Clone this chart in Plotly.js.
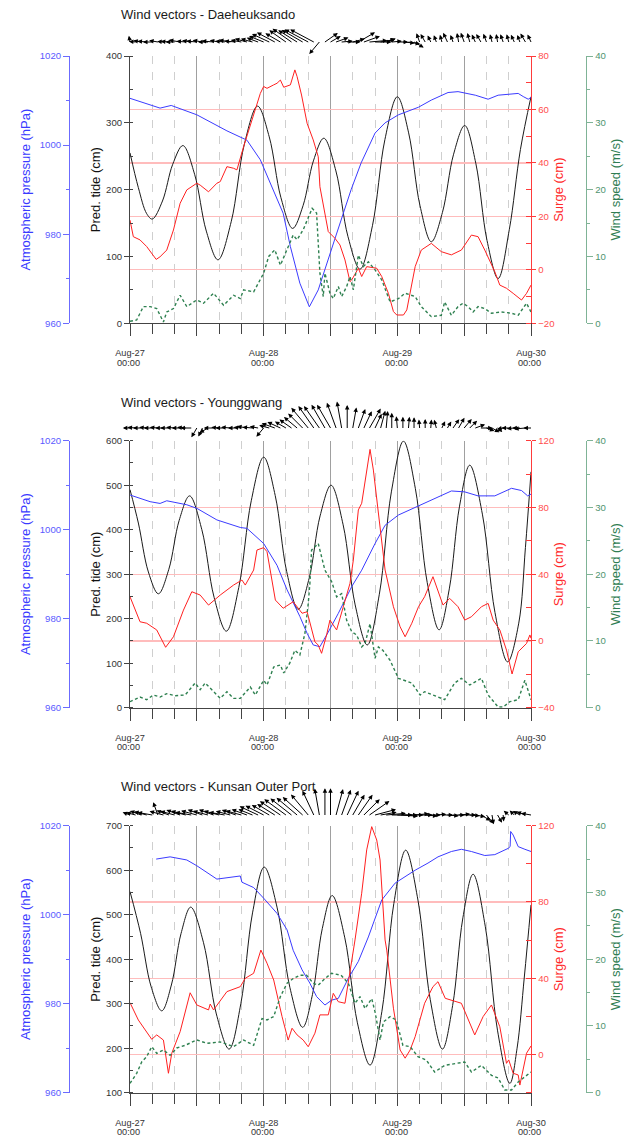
<!DOCTYPE html>
<html><head><meta charset="utf-8">
<script src="https://cdn.plot.ly/plotly-3.0.1.min.js"></script>
<style>html,body{margin:0;padding:0;background:#fff;}#chart{width:637px;height:1138px;}</style>
</head><body><div id="chart"></div>
<script>
// ---------------- DATA (hours after Aug-27 00:00) ----------------
const stationNames = ["Daeheuksando", "Younggwang", "Kunsan Outer Port"];
const startMs = Date.UTC(2012, 7, 27, 0, 0, 0);
const dayHours = [0, 24, 48, 72];
const timeLabel = "00:00";

// Panel 1 - Daeheuksando
const tide1T = [0,1.5,3,4,5.83,7.67,9.5,11.6,13.7,15.8,18.17,20.53,22.9,25,27.1,29.2,31.07,32.93,34.8,36.97,39.13,41.3,43.53,45.77,48,50.03,52.07,54.1,56.1,58.1,60.1,62.1,64.1,66.1,68.1,70.1,72];
const tide1V = [255,203,164,156,183,238,266,223,138,95,152,268,325,279,188,142,176,243,277,228,130,81,146,275,339,285,176,122,166,253,296,239,124,67,140,260,339];
const press1T = [0,5.4,7.4,12,17.4,21,23.4,25.7,27.5,28.8,30.5,32.2,33.8,36.8,39.7,41.5,44,45.8,48.2,51.8,54.1,57.1,58.9,62,64.3,66.1,69.7,70.6,71.5,72];
const press1V = [1010.5,1008.3,1008.9,1006.8,1003.2,1001.1,996.7,989.9,984.7,977.2,969,963.7,967.5,979,990,996,1002.7,1005,1006.8,1008.5,1010.1,1011.8,1012,1011.2,1010.3,1011.2,1011.6,1010.9,1010.3,1010.7];
const surge1T = [0,0.6,1.8,3,4.7,5.4,6.6,7.8,9,10.2,12,12.6,14.1,15.6,16.2,17.4,18.6,19.2,20.4,21.3,22.5,23.4,24,24.6,25.8,26.4,27,27.6,28.8,29.6,30,30.8,31.8,32.9,33.8,34.1,35.6,36.8,37.7,38.6,39.5,39.8,41,41.6,42.5,44.3,45.2,46.4,47.3,47.9,49.1,49.7,51.2,52.3,54.1,55.9,57.7,59.5,61.3,62.5,63.7,65.5,66.4,67.6,68.8,70.3,71.2,72];
const surge1V = [18.6,12.4,11.2,8.7,3.9,4.9,7.4,14.9,24.9,29.9,32.4,31.7,29.2,32.4,33,38.6,38,37.4,46.1,52.3,59.8,66,68.6,67.9,69.2,69.8,71,68.3,69.2,74.8,72.3,65.4,54.8,48.6,42.3,31.1,14.3,11.8,9.3,3.7,-4.4,-3.8,0.6,-2.5,1.2,0.6,-2.5,-8.8,-15.6,-16.9,-16.9,-15,1.2,7.4,9.9,6.8,5.6,7.4,13,12.4,7.4,-0.7,-5.7,-6.9,-8.8,-11.3,-8.8,-5.7];
const wind1T = [0,1.2,1.8,2.4,3.6,4.8,6,6.6,7.8,9,10.2,12,13.2,15,16.8,18.6,19.8,20.4,22.2,24,24.9,26,27,28.2,29.3,30,31.1,32.7,33.5,34.1,34.7,35,35.9,36.5,37.4,38,38.9,39.5,40.1,41,41.9,42.8,44,45.2,46.7,48.2,49.4,51.2,52.3,54.1,55.9,56.5,57.7,58.9,59.8,60.7,61.6,62.5,63.7,64.9,66.7,68.5,69.7,71.2,72];
const wind1V = [0.3,0.5,1.5,2.5,2.5,2.2,0.2,1.7,2.2,4.2,2.5,3.5,3,4.5,2.7,4.2,3.7,5,4.7,7.5,10,11,8.7,11,13.2,12.5,14,17.2,16.5,7.5,4,7.5,4.5,3.7,5.5,4,5.5,7,5,10.2,8.5,9.2,8,6.5,3.2,3.7,4.5,4,2.5,1,1.2,3.2,1.2,2.5,3,2.5,1.7,2.5,2.2,1.5,1.7,1.5,1.2,3,1.7];
// hourly wind direction (degrees, direction wind blows from), hours 0..72
const dir1 = [170,95,100,95,90,100,95,95,90,100,95,100,95,100,90,95,100,95,100,95,100,105,105,110,112,115,118,120,125,125,122,120,118,118,40,235,240,250,265,270,255,240,250,265,270,260,250,265,270,275,280,300,160,150,155,160,165,155,160,170,160,165,155,150,160,165,170,160,165,155,160,150,155];

// Panel 2 - Younggwang
const tide2T = [0,1.5,3.3,5.1,6.97,8.83,10.7,12.9,15.1,17.3,19.53,21.77,24,26.07,28.13,30.2,32.17,34.13,36.1,38.27,40.43,42.6,44.77,46.93,49.1,51.23,53.37,55.5,57.33,59.17,61,63.27,65.53,67.8,69.8,71,72];
const tide2V = [490,415,305,256,311,421,476,400,248,172,270,465,563,477,306,221,291,431,500,411,231,141,255,485,599,493,281,175,267,453,545,435,214,103,190,360,530];
const press2T = [0,3.6,5.4,6.6,10.2,12,15.6,19.8,21,24,26.4,28.2,30.5,31.8,32.9,34.1,35.6,37.4,39.8,41.6,44,45.8,48.2,51.8,54.1,57.7,60.1,62.5,65.5,68.5,70.3,71.4,72];
const press2V = [1007.8,1006.3,1005.9,1006.5,1005.6,1004.8,1002.2,1000.5,1000.3,996.9,992,986.5,980.5,976.7,974.1,973.7,977,981.2,987.2,990.9,996.9,1001,1003.3,1005.3,1006.7,1008.7,1008.5,1007.6,1007.6,1009.3,1008.8,1007.6,1008];
const surge2T = [0,1.8,3,4.8,6.4,7.8,9.6,11.1,12.6,14.1,16.2,18.6,20.1,20.7,22.2,22.8,24,24.6,26.1,27.5,29.3,30.9,31.8,32.7,33.2,33.8,34.4,35.3,35.9,37.1,38,39.5,40.1,41,41.6,42.5,43.1,43.7,44.6,45.8,47.3,48.5,49.4,50.6,51.8,52.9,54.4,56.2,57.4,58.9,60.1,61.3,63.1,64.3,65.2,66.4,67.6,68.6,69.7,71.2,71.8,72];
const surge2V = [26.5,11.5,10.6,6.6,-3.8,2.5,18.5,29.5,27.5,21.5,27.5,33.5,36.5,33.5,42.5,54.5,55.9,53.5,24.5,19.6,23.5,16.6,17.5,5.5,-0.5,-2.5,-7.4,3.6,12.5,6.6,16.6,34.5,48.5,78.5,82.5,102.4,114.8,102.4,76.5,42.5,20.5,8.5,2.5,10.6,20.5,26.5,38.5,21.5,25.5,20.5,12.5,14.5,20.5,22.5,12.5,6.6,-5.5,-19.8,-6.5,-1.5,3.6,1.6];
const wind2T = [0,1.8,3,4.2,5.4,6.6,8.1,9.9,11.7,12.6,13.5,14.4,16.2,17.4,18.6,19.8,21.6,22.5,24,24.6,25.8,27,27.6,28.7,29.6,30.5,31.4,32,32.3,32.6,33.8,35,36.2,37.1,38,38.9,39.8,40.7,41.6,42.2,43.1,44,44.6,45.4,46.7,48.2,49.4,50.6,52.1,52.9,54.4,56.5,58.3,59.5,61,63.1,64.3,66.1,67,68.2,69.7,70.9,72];
const wind2V = [0.9,1.6,1.2,1.9,1.6,2.1,1.8,1.9,3.7,2.7,3.7,2.9,1.4,2.4,1.4,1.4,3.1,1.9,4.1,3.4,6.1,6.4,5.2,6.7,8.6,7.9,11.1,15.6,18.6,23.6,24.6,20.6,18.9,16.6,17.1,13.1,11.4,10.9,9.1,9.6,12.6,7.4,9.1,8.6,7.1,4.4,4.1,3.7,1.9,2.4,1.9,1.2,3.7,4.4,3.4,4.4,1.9,0.1,0.1,0.9,1.2,4.1,1.2];
const dir2 = [90,95,90,95,90,95,90,90,95,90,95,90,30,25,60,90,95,90,95,90,95,100,95,100,40,105,110,115,120,125,130,135,140,145,145,150,150,160,170,180,190,200,205,210,205,195,185,180,175,180,185,180,175,180,185,165,205,210,215,210,220,225,250,270,290,300,310,80,90,85,90,85,90];

// Panel 3 - Kunsan Outer Port
const tide3T = [0,1.9,3.8,5.7,7.43,9.17,10.9,13.2,15.5,17.8,19.9,22,24.1,26.4,28.7,31,32.77,34.53,36.3,38.57,40.83,43.1,45.23,47.37,49.5,51.7,53.9,56.1,57.93,59.77,61.6,63.8,66,68.2,69.5,70.8,72];
const tide3V = [552,458,338,284,342,458,517,437,277,198,300,504,607,517,337,247,321,469,543,448,257,162,283,525,645,533,310,198,296,493,591,473,239,121,200,360,522];
const press3T = [4.7,7.2,10.2,12,15.6,19.8,20.1,22.2,24,26.4,28.2,29.3,30.9,32.3,33.5,35,36.2,37.4,39.2,41,42.8,45.2,47.6,51.2,53.5,55.3,57.7,59.5,61.3,63.7,65.5,67.9,68.25,68.35,68.8,69.7,70.9,72];
const press3V = [1012.5,1013,1012.3,1011,1008,1008.7,1007.3,1006.1,1003.7,1000.3,996.6,992,987.6,984.6,981.6,979.7,980.8,981.2,985.7,989.5,995,1003.3,1007.1,1010,1011.6,1013,1014.2,1014.7,1014.2,1013.3,1013.5,1014.9,1015.3,1018.7,1017.9,1015.3,1014.7,1014.2];
const surge3T = [0,1.5,3.9,4.8,6,6.9,7.5,9,10.8,12,14.1,14.4,15,17.4,19.8,20.7,22.2,23.5,24.6,25.8,27.3,28.4,29.1,30,31.1,32,33.2,34.1,35.6,36.5,37.4,38.6,40.4,41.6,42.5,43.4,44.3,44.9,45.8,46.1,47.3,48.5,49.4,50.3,51.2,52.9,54.4,55.3,56.6,57.7,59.5,61.9,63.4,64.9,66.4,67.6,68,68.8,69.7,70,71.2,72];
const surge3V = [27.2,18.1,8,10.3,7.6,-9.8,0.7,12,32.4,26,23.4,26.5,23.4,33,35.6,40,42.6,54.8,47.9,39.1,19.9,7.6,13.8,10.3,7.6,4.1,11.2,20.8,20.8,32.1,27.7,26.9,60.1,84.6,107.3,119.5,112.5,102,60.1,54.8,24.3,2.4,-1.9,2.4,9.4,26.9,35.6,38.2,29.5,28.6,26.9,10.3,19.9,26,14.6,-4.6,-2.8,-9.8,-10.7,-16,0.7,4.5];
const wind3T = [0,1.2,2.1,3,3.9,4.8,6,7.2,8.4,9.9,12,13.8,16.2,18.6,20.4,22.2,23.7,24.6,25.8,27,28.2,29.3,30.5,31.7,32.9,33.8,35,36.2,37.9,39.2,40.4,41.3,42.2,43.4,44,44.9,45.5,46.7,47.8,49,50.3,51.7,53.2,54.7,56.5,58.3,60.1,61.3,63.1,64.9,66.1,67.3,68.5,69.7,71.2,72];
const wind3V = [1.4,2.9,4.6,5.4,6.9,5.9,6.4,5.6,6.7,7.1,7.9,7.4,7.6,6.9,7.9,7.1,11.1,10.9,11.4,14.4,16.4,17.1,17.6,17.6,16.4,16.1,17.1,17.9,17.6,16.4,13.4,14.4,12.6,14.1,12.1,7.9,10.6,11.4,10.9,7.1,6.9,5.4,4.9,3.1,4.1,4.4,4.6,3.1,4.1,2.6,2.2,0.4,0.4,1.6,2.6,3.1];
const dir3 = [110,105,110,105,100,160,105,110,105,110,105,100,105,110,105,110,105,100,105,110,105,110,112,115,117,120,122,124,126,128,130,132,140,155,170,180,180,195,200,205,210,215,225,235,255,260,265,270,270,275,270,265,270,275,270,265,270,275,270,265,270,275,280,300,320,350,330,355,130,135,120,110,100];

// axis settings per panel
const tideRanges = [[0,400],[0,600],[100,700]];
const surgeRanges = [[-20,80],[-40,120],[-20,120]];
const surgeDticks = [20,40,40];
const pressRange = [960,1020];
const windRange = [0,40];

// ---------------- LAYOUT CONSTANTS ----------------
const W = 637, H = 1138;
const plotL = 130, plotR = 531;
const rowsPx = [[56,323.3],[440.7,707.7],[825.7,1092.7]];
const arrowBasePx = [42, 428, 815];
const titleYPx = [15, 402, 786];
const pressAxisX = 69, windAxisX = 586;
const FONT = 'Liberation Sans, Arial, Helvetica, sans-serif';
const XFONT = 9.2;

function toDate(h){ return new Date(startMs + h*3600000).toISOString().slice(0,19).replace('T',' '); }
function nearest(ts, vs, t){ let bi=0, bd=1e9; for(let i=0;i<ts.length;i++){const d=Math.abs(ts[i]-t); if(d<bd){bd=d;bi=i;}} return vs[bi]; }

const panels = [
  {tT:tide1T,tV:tide1V,pT:press1T,pV:press1V,sT:surge1T,sV:surge1V,wT:wind1T,wV:wind1V,dir:dir1},
  {tT:tide2T,tV:tide2V,pT:press2T,pV:press2V,sT:surge2T,sV:surge2V,wT:wind2T,wV:wind2V,dir:dir2},
  {tT:tide3T,tV:tide3V,pT:press3T,pV:press3V,sT:surge3T,sV:surge3V,wT:wind3T,wV:wind3V,dir:dir3}
];

const traces = [];
const layout = {
  width: W, height: H, margin:{l:0,r:0,t:0,b:0},
  paper_bgcolor:'#fff', plot_bgcolor:'rgba(0,0,0,0)',
  showlegend:false, font:{family:FONT, size:10, color:'#333'},
  annotations: []
};
const domX = [plotL/W, plotR/W];
const xStart = toDate(0), xEnd = toDate(72);

panels.forEach((p, i) => {
  const xid = i===0 ? 'x' : 'x'+(i+1);
  const xkey = i===0 ? 'xaxis' : 'xaxis'+(i+1);
  const yn = [4*i+1, 4*i+2, 4*i+3, 4*i+4];
  const yid = yn.map(n => n===1 ? 'y' : 'y'+n);
  const ykey = yn.map(n => n===1 ? 'yaxis' : 'yaxis'+n);
  const dom = [1 - rowsPx[i][1]/H, 1 - rowsPx[i][0]/H];

  layout[xkey] = {
    domain: domX, anchor: yid[0], type:'date', range:[xStart, xEnd],
    tickmode:'linear', tick0: xStart, dtick: 12*3600000, ticklabelstep: 2,
    tickformat:'%b-%d', tickfont:{size:XFONT, color:'#333'},
    ticks:'outside', ticklen:12, tickwidth:1, tickcolor:'#444', ticklabelstandoff: 9,
    showline:true, linecolor:'#444', linewidth:1,
    showgrid:true, gridcolor:'#a0a0a0', gridwidth:1.1, zeroline:false,
    minor:{tick0: xStart, dtick: 4*3600000, ticks:'outside', ticklen:10, tickwidth:1, tickcolor:'#444',
           showgrid:true, gridcolor:'#cfcfcf', gridwidth:1, griddash:'8px,8px'},
    fixedrange:true
  };
  // tide
  layout[ykey[0]] = {
    domain: dom, anchor: xid, range: tideRanges[i], tick0:0, dtick:100,
    ticks:'outside', ticklen:5, tickcolor:'#444', showline:true, linecolor:'#444', linewidth:1,
    showgrid:false, zeroline:false, tickfont:{size:9.6, color:'#333'},
    minor:{dtick:50, ticks:'inside', ticklen:3, tickcolor:'#444', showgrid:false},
    title:{text:'Pred. tide (cm)', font:{size:13, color:'#111'}, standoff:2}, automargin:false
  };
  // pressure
  layout[ykey[1]] = {
    overlaying: yid[0], anchor:'free', position: pressAxisX/W, side:'left',
    range: pressRange, tick0:960, dtick:20,
    ticks:'outside', ticklen:6, tickcolor:'#6b6bff', showline:true, linecolor:'#6b6bff', linewidth:1.3,
    showgrid:false, zeroline:false, tickfont:{size:9.6, color:'#5a5aff'},
    minor:{dtick:10, ticks:'outside', ticklen:3, tickcolor:'#6b6bff', showgrid:false},
    title:{text:'Atmospheric pressure (hPa)', font:{size:13, color:'#3a3aff'}, standoff:5}, automargin:false
  };
  // surge
  layout[ykey[2]] = {
    overlaying: yid[0], anchor: xid, side:'right',
    range: surgeRanges[i], tick0:0, dtick: surgeDticks[i],
    ticks:'outside', ticklen:4, tickcolor:'#ff3b3b', showline:true, linecolor:'#ff3b3b', linewidth:1.3,
    showgrid:true, gridcolor:'#ffbcbc', gridwidth:1.3, zeroline:false, tickfont:{size:9.6, color:'#ff4d4d'},
    minor:{dtick: surgeDticks[i]/2, ticks:'inside', ticklen:5, tickcolor:'#ff3b3b', showgrid:false},
    title:{text:'Surge (cm)', font:{size:13, color:'#ff2a2a'}, standoff:0}, automargin:false
  };
  // wind
  layout[ykey[3]] = {
    overlaying: yid[0], anchor:'free', position: windAxisX/W, side:'right',
    range: windRange, tick0:0, dtick:10,
    ticks:'outside', ticklen:6, tickcolor:'#7fb396', showline:true, linecolor:'#7fb396', linewidth:1.3,
    showgrid:false, zeroline:false, tickfont:{size:9.6, color:'#4f9470'},
    minor:{dtick:5, ticks:'outside', ticklen:3, tickcolor:'#7fb396', showgrid:false},
    title:{text:'Wind speed (m/s)', font:{size:13, color:'#2f7d52'}, standoff:6}, automargin:false
  };

  traces.push({type:'scatter', mode:'lines', x:p.tT.map(toDate), y:p.tV, xaxis:xid, yaxis:yid[0],
    line:{color:'#1a1a1a', width:1, shape:'spline', smoothing:1}, hoverinfo:'skip'});
  traces.push({type:'scatter', mode:'lines', x:p.pT.map(toDate), y:p.pV, xaxis:xid, yaxis:yid[1],
    line:{color:'#3b3bff', width:1}, hoverinfo:'skip'});
  traces.push({type:'scatter', mode:'lines', x:p.sT.map(toDate), y:p.sV, xaxis:xid, yaxis:yid[2],
    line:{color:'#ff2020', width:1}, hoverinfo:'skip'});
  traces.push({type:'scatter', mode:'lines', x:p.wT.map(toDate), y:p.wV, xaxis:xid, yaxis:yid[3],
    line:{color:'#2e8050', width:1.4, dash:'3px,2.5px'}, hoverinfo:'skip'});

  // second line of the day tick labels
  dayHours.forEach(h => {
    layout.annotations.push({text: timeLabel, xref: xid, yref:'paper', x: toDate(h),
      y: 1 - (rowsPx[i][1] + 39.3)/H, xanchor:'left', yanchor:'middle', xshift:-14.8, showarrow:false,
      font:{size:XFONT, color:'#333', family:FONT}});
  });

  // panel title
  layout.annotations.push({text:'Wind vectors - ' + stationNames[i], xref:'paper', yref:'paper',
    x: 119/W, y: 1 - titleYPx[i]/H, xanchor:'left', yanchor:'middle', showarrow:false,
    font:{size:13, color:'#1a1a1a', family:FONT}});

  // wind vectors (hourly); length grows with speed, capped for legibility
  p.dir.forEach((d, h) => {
    const s = nearest(p.wT, p.wV, h);
    const L = 6 + 1.3*Math.min(s, 16);
    const rad = d*Math.PI/180;
    const u = -Math.sin(rad)*L, v = -Math.cos(rad)*L;
    layout.annotations.push({xref:xid, yref:'paper', x: toDate(h), y: 1 - arrowBasePx[i]/H,
      text:' ', font:{size:1}, borderpad:0, borderwidth:0,
      showarrow:true, arrowhead:2, arrowsize:0.9, arrowwidth:1, arrowcolor:'#000',
      axref:'pixel', ayref:'pixel', ax: -u, ay: v, xshift: u, yshift: v, standoff:0, startstandoff:0});
  });
});

Plotly.newPlot('chart', traces, layout, {staticPlot:true, displayModeBar:false});
</script></body></html>
